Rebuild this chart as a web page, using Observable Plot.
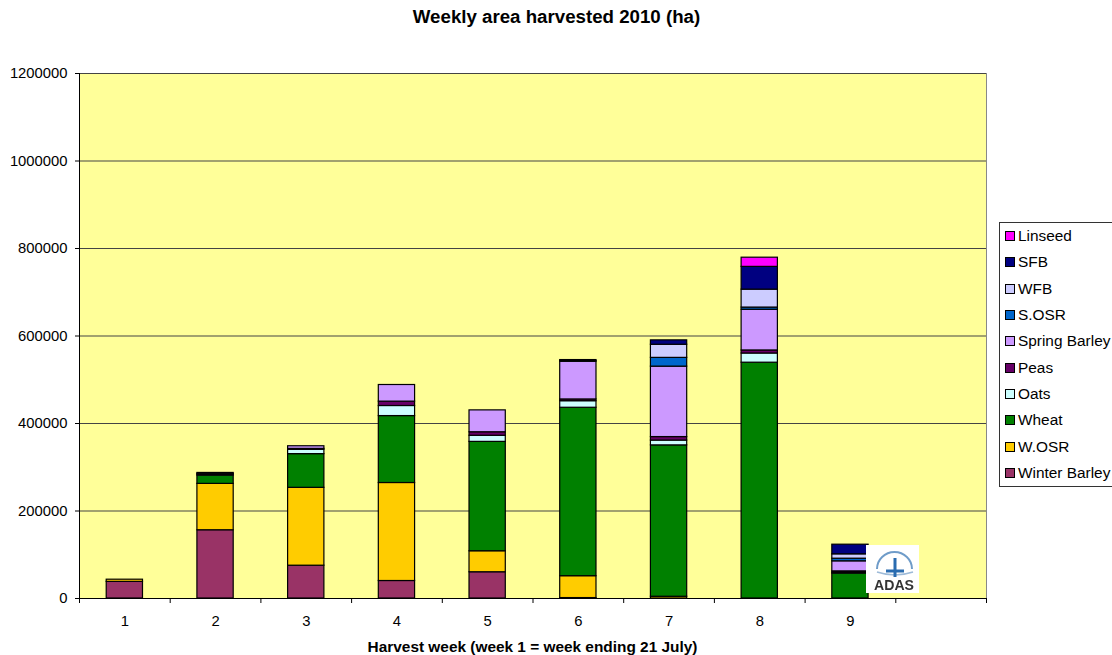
<!DOCTYPE html>
<html>
<head>
<meta charset="utf-8">
<script src="https://cdn.jsdelivr.net/npm/d3@7"></script>
<script src="https://cdn.jsdelivr.net/npm/@observablehq/plot@0.6"></script>
<style>
html,body{margin:0;padding:0;background:#fff;overflow:hidden}
body{width:1112px;height:655px;position:relative;font-family:"Liberation Sans",Arial,sans-serif;color:#000}
#chart{position:absolute;left:0;top:0}
#title{position:absolute;left:0;width:1113px;top:6px;text-align:center;font-weight:bold;font-size:18.7px;line-height:22px}
#xlabel{position:absolute;left:79px;width:907px;top:638px;text-align:center;font-weight:bold;font-size:15.4px;line-height:18px;white-space:nowrap}
#legend{position:absolute;left:999px;top:222px;width:113px;height:265px;box-sizing:border-box;border:1px solid #333;border-right:none;background:#fff}
.item{position:absolute;left:5px;height:16px;font-size:15.4px;line-height:16px;white-space:nowrap}
.sw{position:absolute;left:0;top:3px;width:10px;height:10px;box-sizing:border-box;border:1px solid #000}
.tx{position:absolute;left:13px;top:0}
#logo{position:absolute;left:866px;top:545px;width:53px;height:48px;background:#fff}
</style>
</head>
<body>
<div id="chart"></div>
<div id="title">Weekly area harvested 2010 (ha)</div>
<div id="xlabel">Harvest week (week 1 = week ending 21 July)</div>
<div id="legend"></div>
<div id="logo">
<svg width="53" height="48" viewBox="0 0 53 48" style="filter:blur(0.5px)">
<path d="M11 24 A17.5 17 0 0 1 46 24" fill="none" stroke="#6f9cc9" stroke-width="2"/>
<path d="M11 27 Q29 33 47 27" fill="none" stroke="#9dbad8" stroke-width="1.5"/>
<path d="M29 13 V32 M20 26 H38" stroke="#2a6cb0" stroke-width="3" fill="none"/>
<text x="28" y="45" text-anchor="middle" font-family="Liberation Sans" font-weight="bold" font-size="14" fill="#333" textLength="40" lengthAdjust="spacingAndGlyphs">ADAS</text>
</svg>
</div>
<script>
const weeks = [1, 2, 3, 4, 5, 6, 7, 8, 9];
const crops = ["Winter Barley", "W.OSR", "Wheat", "Oats", "Peas", "Spring Barley", "S.OSR", "WFB", "SFB", "Linseed"];
const colors = ["#993366", "#FFCC00", "#008000", "#CCFFFF", "#660066", "#CC99FF", "#0066CC", "#CCCCFF", "#000080", "#FF00FF"];

const winterBarley = [38000, 156000, 75000, 40000, 60000, 1000, 0, 0, 0];
const wOSR         = [5000, 106000, 178000, 224000, 48000, 50000, 4000, 0, 0];
const wheat        = [0, 19000, 77000, 153000, 250000, 385000, 346000, 539000, 57000];
const oats         = [0, 2000, 10000, 23000, 14000, 15000, 11000, 21000, 2000];
const peas         = [0, 2000, 2000, 10000, 8000, 4000, 8000, 7000, 3000];
const springBarley = [0, 2000, 6000, 38000, 50000, 86000, 161000, 93000, 23000];
const sOSR         = [0, 0, 0, 0, 0, 0, 20000, 5000, 6000];
const wfb          = [0, 0, 0, 0, 0, 2000, 30000, 41000, 10000];
const sfb          = [0, 0, 0, 0, 0, 2000, 10000, 52000, 22000];
const linseed      = [0, 0, 0, 0, 0, 0, 0, 21000, 0];
const series = [winterBarley, wOSR, wheat, oats, peas, springBarley, sOSR, wfb, sfb, linseed];

const yTicks = [0, 200000, 400000, 600000, 800000, 1000000, 1200000];
const boundaries = [0.5, 1.5, 2.5, 3.5, 4.5, 5.5, 6.5, 7.5, 8.5, 9.5, 10.5];

const rows = crops.flatMap((crop, c) =>
  weeks.map((week, w) => ({week, crop, value: series[c][w]})).filter(d => d.value > 0));

const chart = Plot.plot({
  width: 1112,
  height: 655,
  marginLeft: 79,
  marginRight: 126,
  marginTop: 73,
  marginBottom: 57,
  style: {fontFamily: '"Liberation Sans",Arial,sans-serif', fontSize: "15px", background: "transparent", color: "#000"},
  x: {type: "linear", domain: [0.5, 10.5]},
  y: {domain: [0, 1200000]},
  color: {domain: crops, range: colors},
  marks: [
    Plot.frame({fill: "#FFFF99", stroke: "#888888"}),
    Plot.ruleY(yTicks, {stroke: "#444444", strokeWidth: 1.2}),
    Plot.rectY(rows, Plot.stackY({
      x: "week",
      x1: d => d.week - 0.2,
      x2: d => d.week + 0.2,
      y: "value",
      fill: "crop",
      stroke: "#000",
      strokeWidth: 1.2,
      order: crops
    })),
    Plot.ruleX([0.5], {stroke: "#000"}),
    Plot.ruleY([0], {stroke: "#000"}),
    Plot.axisY({ticks: yTicks, tickFormat: d => String(d), tickSize: 4, tickPadding: 8, label: null, fontSize: 14.8}),
    Plot.axisX({ticks: boundaries, tickFormat: () => "", tickSize: 5, label: null}),
    Plot.axisX({ticks: weeks, tickFormat: d => String(d), tickSize: 0, tickPadding: 17, label: null, fontSize: 14.8})
  ]
});
document.getElementById("chart").append(chart);

const legend = document.getElementById("legend");
crops.slice().reverse().forEach((crop, i) => {
  const item = document.createElement("div");
  item.className = "item";
  item.style.top = (5 + i * 26.33) + "px";
  const sw = document.createElement("div");
  sw.className = "sw";
  sw.style.background = colors[crops.indexOf(crop)];
  const tx = document.createElement("div");
  tx.className = "tx";
  tx.textContent = crop;
  item.append(sw, tx);
  legend.append(item);
});
</script>
</body>
</html>
